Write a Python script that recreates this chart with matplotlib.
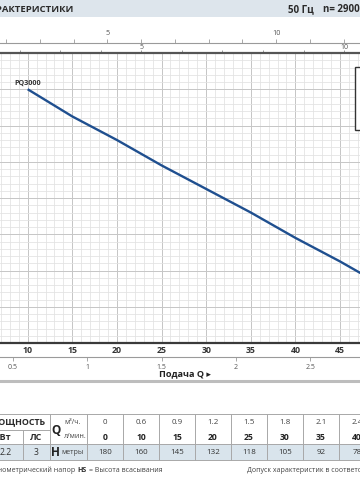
import matplotlib
matplotlib.use("Agg")
import matplotlib.pyplot as plt
from matplotlib.ticker import MultipleLocator, FixedLocator
from matplotlib.patches import Rectangle

plt.rcParams['font.family'] = ['Open Sans', 'DejaVu Sans']

# ---------------- data ----------------
curve_name = "PQ3000"
q_curve = [10, 15, 20, 25, 30, 35, 40, 45, 50]          # l/min
h_curve = [160, 145, 132, 118, 105, 92, 78, 65, 51]     # m

tbl_m3h = ["0", "0.6", "0.9", "1.2", "1.5", "1.8", "2.1", "2.4"]
tbl_lmin = ["0", "10", "15", "20", "25", "30", "35", "40"]
tbl_h = ["180", "160", "145", "132", "118", "105", "92", "78"]
power_kw = "2.2"
power_hp = "3"

lmin_ticks = [10, 15, 20, 25, 30, 35, 40, 45]
m3h_ticks = [0.5, 1, 1.5, 2, 2.5]
usgpm_ticks = [5, 10]
impgpm_ticks = [5, 10]

W, H = 360, 480
fig = plt.figure(figsize=(W / 100, H / 100), dpi=100)

def fy(y):
    return 1 - y / H

# overlay for decorations in pixel coords
ov = fig.add_axes([0, 0, 1, 1], zorder=0)
ov.set_xlim(0, W)
ov.set_ylim(H, 0)
ov.axis('off')

# title bar
ov.add_patch(Rectangle((0, 0), W, 17, color='#dde5ec', lw=0))
ov.text(73, 9.5, "ХАРАКТЕРИСТИКИ", ha='right', va='center', fontsize=6.8,
        fontweight='bold', color='#2a2a2a')
ov.text(288, 9.5, "50 Гц", ha='left', va='center', fontsize=7.0,
        fontweight='bold', color='#2a2a2a')
ov.text(323, 9.5, "n= 2900 мин⁻¹", ha='left', va='center', fontsize=7.0,
        fontweight='bold', color='#2a2a2a')

# main axes
top_px, bot_px = 53, 343
ax = fig.add_axes([0, fy(bot_px), 1, (bot_px - top_px) / H], zorder=2)
ax.set_facecolor('none')
ax.set_xlim(6.9, 47.24)
ax.set_ylim(20, 180)
ax.xaxis.set_major_locator(FixedLocator(lmin_ticks))
ax.xaxis.set_minor_locator(MultipleLocator(1))
ax.yaxis.set_major_locator(MultipleLocator(20))
ax.yaxis.set_minor_locator(MultipleLocator(4))
ax.grid(which='minor', color='#e2e2e2', lw=0.55)
ax.grid(which='major', color='#c6c6c6', lw=0.7)
for xv in [5 * k for k in range(1, 10)]:
    ax.axvline(xv, color='#c6c6c6', lw=0.7, zorder=0.5)
ax.set_axisbelow(True)
ax.tick_params(axis='y', which='both', left=False, labelleft=False)
ax.tick_params(axis='x', which='both', length=0, pad=2.5, labelsize=6.3,
               labelcolor='#333333')
ax.set_xticklabels([str(v) for v in lmin_ticks], fontweight='bold')
for s in ['left', 'right']:
    ax.spines[s].set_visible(False)
ax.spines['bottom'].set_color('#3a3a3a')
ax.spines['bottom'].set_linewidth(1.6)
ax.spines['top'].set_color('#555555')
ax.spines['top'].set_linewidth(1.6)

ax.plot(q_curve, h_curve, color='#1f4f8f', lw=1.7, solid_capstyle='butt', zorder=3)
ax.annotate(curve_name, xy=(q_curve[0], h_curve[0]), xytext=(0, 2),
            textcoords='offset points', ha='center', va='bottom',
            fontsize=5.2, fontweight='bold', color='#333333')

# legend box (partly outside)
ax.add_patch(Rectangle((355, 67), 40, 63, transform=ov.transData,
                       facecolor='white', edgecolor='#333333', lw=1.0,
                       zorder=4, clip_on=False))

# secondary axes
def mk_sec(loc, f, finv, ticks, minor, color, lw, labelsize, pad, length):
    sa = ax.secondary_xaxis(loc, functions=(f, finv))
    sa.set_xticks(ticks)
    sa.set_xticklabels([f"{t:g}" for t in ticks])
    if minor:
        sa.xaxis.set_minor_locator(MultipleLocator(minor))
    sa.tick_params(which='both', direction='out', length=length, width=0.6,
                   color=color, labelsize=labelsize, labelcolor='#555555', pad=pad)
    for sp in sa.spines.values():
        sp.set_color(color)
        sp.set_linewidth(lw)
    return sa

mk_sec(1 + 10 / 290, lambda q: q / 3.785, lambda g: g * 3.785,
       usgpm_ticks, 1, '#9a9a9a', 0.8, 5.2, 1.5, 3)
mk_sec(1.0, lambda q: q / 4.546, lambda g: g * 4.546,
       impgpm_ticks, 1, '#888888', 0, 5.0, -0.5, 2)
mk_sec(-14 / 290, lambda q: q / 16.667, lambda m: m * 16.667,
       m3h_ticks, None, '#9a9a9a', 0.8, 5.0, 2, 3)

ov.text(159, 374, "Подача Q ▸", ha='left', va='center', fontsize=6.6,
        fontweight='bold', color='#222222')
ov.plot([0, W], [381, 381], color='#bdbdbd', lw=2.2)

# ---------------- table ----------------
t_top, r1, r2, t_bot = 414, 430, 444, 460
ov.add_patch(Rectangle((0, r2), W, t_bot - r2, color='#d9e4ec', lw=0))
ov.plot([0, W], [t_top, t_top], color='#a8a8a8', lw=0.7)
ov.plot([0, W], [r2, r2], color='#a8a8a8', lw=0.7)
ov.plot([0, W], [t_bot, t_bot], color='#a8a8a8', lw=0.7)
ov.plot([0, 50], [r1, r1], color='#a8a8a8', lw=0.7)
ov.plot([23, 23], [r1, t_bot], color='#a8a8a8', lw=0.7)
for xs in [50, 87] + [87 + 36 * k for k in range(1, 8)]:
    ov.plot([xs, xs], [t_top, t_bot], color='#a8a8a8', lw=0.7)

ov.text(45, 422, "МОЩНОСТЬ", ha='right', va='center', fontsize=6.4,
        fontweight='bold', color='#2a2a2a')
ov.text(11, 437, "кВт", ha='right', va='center', fontsize=6.4,
        fontweight='bold', color='#2a2a2a')
ov.text(36, 437, "ЛС", ha='center', va='center', fontsize=6.4,
        fontweight='bold', color='#2a2a2a')
ov.text(12, 452.5, power_kw, ha='right', va='center', fontsize=6.2, color='#333333')
ov.text(36, 452.5, power_hp, ha='center', va='center', fontsize=6.2, color='#333333')
ov.text(55.5, 430, "Q", ha='center', va='center', fontsize=8.5,
        fontweight='bold', color='#222222')
ov.text(55.5, 452.5, "H", ha='center', va='center', fontsize=8.5,
        fontweight='bold', color='#222222')
ov.text(73, 422.5, "м³/ч.", ha='center', va='center', fontsize=5.0, color='#444444')
ov.text(75, 437, "л/мин.", ha='center', va='center', fontsize=5.0, color='#444444')
ov.text(73, 452.5, "метры", ha='center', va='center', fontsize=5.0, color='#444444')
for i in range(len(tbl_m3h)):
    cx = 105 + 36 * i
    ov.text(cx, 422.5, tbl_m3h[i], ha='center', va='center', fontsize=5.8, color='#444444')
    ov.text(cx, 437, tbl_lmin[i], ha='center', va='center', fontsize=6.2,
            fontweight='bold', color='#222222')
    ov.text(cx, 452.5, tbl_h[i], ha='center', va='center', fontsize=5.8, color='#333333')

# footer
ov.text(89, 470, "= Высота всасывания", ha='left', va='center',
        fontsize=5.0, color='#444444')
ov.text(87, 470, "HS", ha='right', va='center', fontsize=5.0,
        fontweight='bold', color='#333333')
ov.text(75, 470, "H = Полный манометрический напор", ha='right', va='center',
        fontsize=5.0, color='#444444')
ov.text(247, 470, "Допуск характеристик в соответствии с EN ISO 9906", ha='left',
        va='center', fontsize=5.0, color='#444444')

fig.savefig("out.png", dpi=100)
